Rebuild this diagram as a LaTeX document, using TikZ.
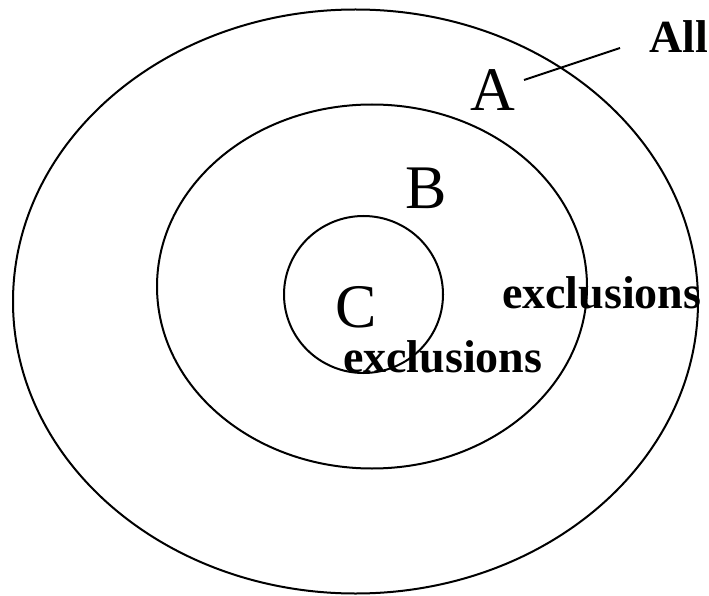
\documentclass[tikz,border=0pt]{standalone}
\usepackage{fontspec}
\setmainfont{Liberation Serif}
\usetikzlibrary{positioning}

\begin{document}
\begin{tikzpicture}[x=1pt, y=-1pt, line width=2pt,
    bigletter/.style={anchor=base, inner sep=0pt, font=\fontsize{62}{66}\selectfont},
    boldlabel/.style={anchor=base west, inner sep=0pt, font=\fontsize{46}{50}\selectfont\bfseries}]
    \useasboundingbox (0,0) rectangle (709,596);

    % The three nested sets
    \draw (355.5,301.5) ellipse [x radius=342.5, y radius=292];
    \draw (372,286.5) ellipse [x radius=215, y radius=182];
    \draw (363.5,294.5) ellipse [x radius=79.5, y radius=78.5];

    % Set letters
    \node[bigletter] (setA) at (493,111) {A};
    \node[bigletter] (setB) at (426,208) {B};
    \node[bigletter] (setC) at (356.5,327) {C};

    % Bold labels
    \node[boldlabel] (all) at (648,53) {All};
    \node[boldlabel] (exclB) at (501,308) {exclusions};
    \node[boldlabel] (exclC) at (342,372) {exclusions};

    % Leader line from A to All
    \coordinate (leaderA) at (524,80);
    \coordinate (leaderAll) at (620,48);
    \draw (leaderA) -- (leaderAll);
\end{tikzpicture}
\end{document}
